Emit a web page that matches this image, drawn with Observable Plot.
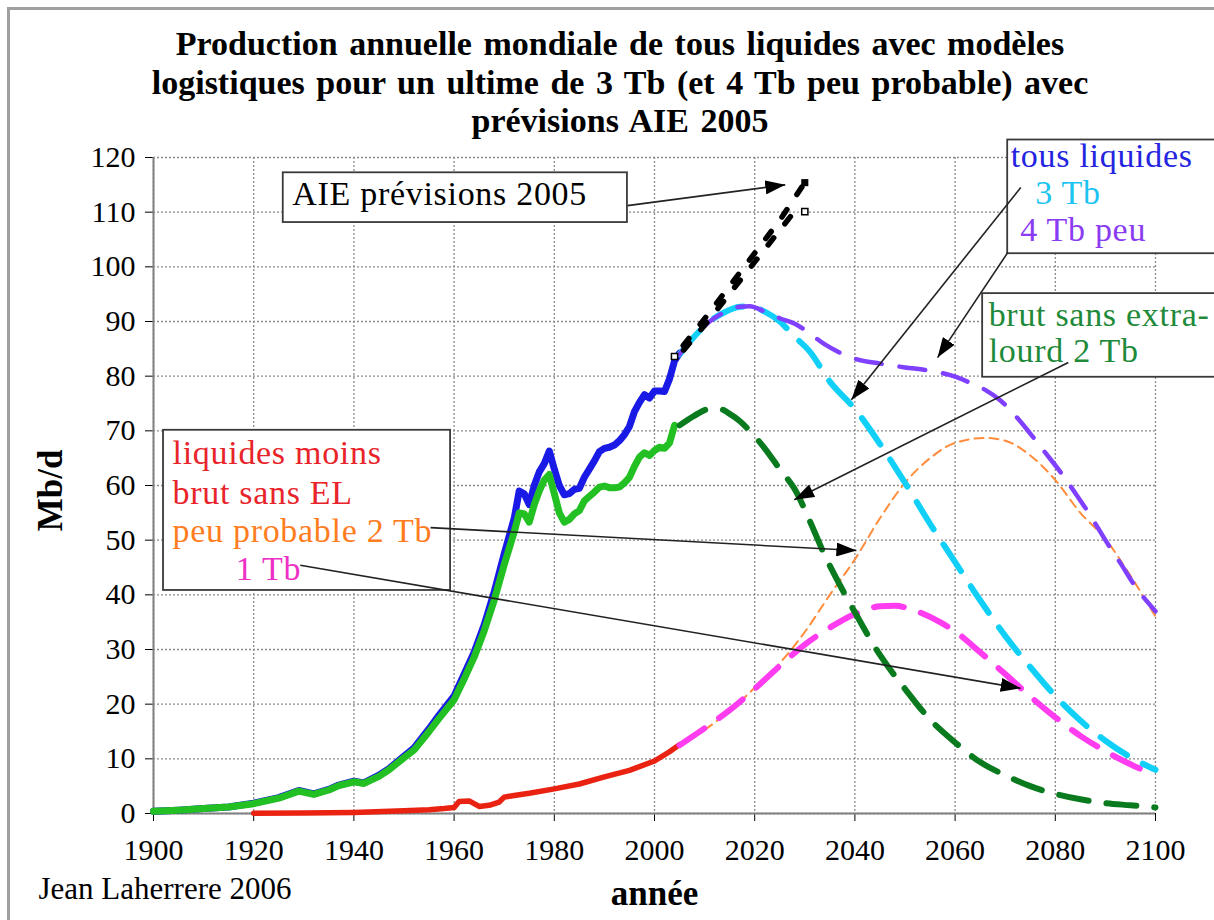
<!DOCTYPE html>
<html>
<head>
<meta charset="utf-8">
<script src="https://cdn.jsdelivr.net/npm/d3@7"></script>
<script src="https://cdn.jsdelivr.net/npm/@observablehq/plot@0.6"></script>
<style>
  html, body { margin: 0; padding: 0; background: #fff; }
  #page { position: relative; width: 1214px; height: 920px; overflow: hidden; background: #fff; font-family: 'Liberation Serif', Tinos, 'Times New Roman', 'DejaVu Serif', serif; }
  #frame { position: absolute; left: 7px; top: 7px; width: 1300px; height: 1000px; border-left: 3px solid #a0a0a0; border-top: 3px solid #a0a0a0; }
  #title { position: absolute; left: 0; top: 25px; width: 1240px; text-align: center; font-weight: bold; font-size: 34px; word-spacing: 3px; line-height: 38.5px; color: #000; }
  #chart { position: absolute; left: 0; top: 140px; }
</style>
</head>
<body>
<div id="page">
  <div id="frame"></div>
  <div id="title">Production annuelle mondiale de tous liquides avec modèles<br>logistiques pour un ultime de 3 Tb (et 4 Tb peu probable) avec<br>prévisions AIE 2005</div>
  <div id="chart"></div>
</div>
<script>
// ---- historical data ----
const allLiquidsYears = [1900,1905,1910,1915,1920,1925,1929,1932,1935,1937,1940,1942,1945,1947,1950,1952,1955,1957,1960,1962,1964,1966,1968,1970,1972,1973,1974,1975,1976,1977,1978,1979,1980,1981,1982,1983,1984,1985,1986,1987,1988,1989,1990,1991,1992,1993,1994,1995,1996,1997,1998,1999,2000,2001,2002,2003,2004,2005];
const allLiquidsValues = [0.4,0.6,0.9,1.2,1.9,2.9,4.2,3.6,4.4,5.2,5.9,5.6,7.0,8.2,10.5,12.0,15.5,18.0,21.5,25.5,29.5,34.5,40.5,47.5,54.0,59.0,58.5,56.5,60.0,62.5,64.0,66.3,63.0,60.0,58.3,58.5,59.3,59.5,61.5,63.0,64.5,66.2,66.8,67.0,67.4,68.2,69.3,70.8,73.5,75.2,76.6,76.0,77.3,77.3,77.2,79.5,82.8,84.2];

const crudeYears = [1900,1905,1910,1915,1920,1925,1929,1932,1935,1937,1940,1942,1945,1947,1950,1952,1955,1957,1960,1962,1964,1966,1968,1970,1972,1973,1974,1975,1976,1977,1978,1979,1980,1981,1982,1983,1984,1985,1986,1987,1988,1989,1990,1991,1992,1993,1994,1995,1996,1997,1998,1999,2000,2001,2002,2003,2004];
const crudeValues = [0.4,0.6,0.9,1.2,1.8,2.8,4.1,3.5,4.3,5.1,5.8,5.5,6.8,8.0,10.2,11.6,15.0,17.4,20.8,24.6,28.6,33.4,39.0,45.5,51.5,55.0,54.8,53.3,56.5,59.0,61.0,62.0,58.5,55.0,53.3,53.8,54.8,55.4,57.2,58.0,58.8,59.7,59.9,59.6,59.6,59.7,60.5,61.5,63.5,65.2,66.0,65.5,66.4,67.0,66.8,67.8,71.0];

const otherYears = [1920,1930,1940,1950,1955,1958,1960,1961,1963,1965,1967,1969,1970,1972,1975,1980,1985,1990,1995,2000,2003,2005];
const otherValues = [0.05,0.1,0.2,0.5,0.7,0.9,1.1,2.2,2.3,1.3,1.5,2.1,3.0,3.3,3.7,4.5,5.4,6.7,7.9,9.6,11.3,12.6];

// ---- logistic models ----
const tb3Years = [2005,2008,2011,2014,2017,2019,2022,2025,2028,2031,2035,2040,2045,2050,2055,2060,2065,2070,2075,2080,2085,2090,2095,2100];
const tb3Values = [84,87.3,90,91.7,92.7,92.8,91.8,90,87.2,84.5,79,74,67.6,60.5,53,46,39,32.5,26.8,21.5,17,13.3,10.3,8];

const tb4Years = [2005,2008,2011,2014,2017,2019,2022,2025,2028,2031,2034,2037,2040,2045,2050,2055,2060,2063,2066,2069,2072,2075,2078,2081,2084,2087,2090,2093,2096,2100];
const tb4Values = [84,87.3,90,91.7,92.7,92.8,91.8,90.6,89.6,87.8,85.8,84.3,83.2,82.3,81.6,81,79.9,78.8,77.5,75.6,72.8,69.5,66,62.5,58.6,54.5,50,45.8,41.5,37];

const crude2Years = [2005,2008,2011,2013,2015,2017,2019,2022,2025,2028,2031,2034,2037,2040,2045,2050,2055,2060,2065,2070,2075,2080,2085,2090,2095,2100];
const crude2Values = [71,72.8,74,74,73.1,71.8,70,66.8,63,59.3,53.5,47.2,41.8,36.8,29,22.8,17.2,13,9.4,7,5,3.6,2.6,1.9,1.5,1.1];

const other2Years = [2005,2010,2015,2020,2025,2030,2035,2040,2045,2050,2055,2060,2066,2070,2075,2080,2085,2090,2095,2100];
const other2Values = [12.3,15.3,18.8,23,27.5,33.2,40,46.5,54,60.5,65,67.8,68.7,68.2,65.5,61,55,50.2,43.5,36];

const other1Years = [2005,2010,2015,2020,2025,2030,2035,2040,2045,2048,2052,2057,2060,2065,2070,2075,2080,2085,2090,2095,2100];
const other1Values = [12.5,15.6,18.9,22.8,27,30.9,34,36.5,37.9,38,37.1,35,33.3,29.5,25.5,21.4,17.6,14.2,11.4,9,7];

// ---- IEA 2005 forecast (two close scenarios) ----
const ieaHighYears = [2004,2010,2015,2020,2025,2030];
const ieaHighValues = [83.6,90.5,96.5,102.5,108.5,115.4];
const ieaLowYears = [2004,2010,2015,2020,2025,2028];
const ieaLowValues = [82.8,89.3,95.1,100.9,106.7,110.2];
const ieaOpenYears = [2004,2030];
const ieaOpenValues = [83.6,110.1];
const ieaFilledYears = [2030];
const ieaFilledValues = [115.4];

// ---- ticks ----
const xTicks = [1900,1920,1940,1960,1980,2000,2020,2040,2060,2080,2100];
const yTicks = [0,10,20,30,40,50,60,70,80,90,100,110,120];

// ---- annotations ----
const boxes = [
  {x1: 1925.9, x2: 1994.6, y1: 108.1, y2: 117.2},
  {x1: 2070.5, x2: 2113, y1: 102.4, y2: 123.2},
  {x1: 2065.5, x2: 2113, y1: 79.8, y2: 95.1},
  {x1: 1902.0, x2: 1959.3, y1: 40.8, y2: 70.1}
];
const labels = [
  {x: 1927.7, y: 113.3, text: "AIE prévisions 2005", color: "#000000"},
  {x: 2071.1, y: 120.3, text: "tous liquides", color: "#2424e0"},
  {x: 2076.0, y: 113.5, text: "3 Tb", color: "#1cc4f2"},
  {x: 2073.0, y: 106.8, text: "4 Tb peu", color: "#8a3cf2"},
  {x: 2066.7, y: 91.1, text: "brut sans extra-", color: "#1f8a3a"},
  {x: 2066.7, y: 84.5, text: "lourd 2 Tb", color: "#1f8a3a"},
  {x: 1903.8, y: 65.9, text: "liquides moins", color: "#e8242a"},
  {x: 1903.8, y: 58.6, text: "brut sans EL", color: "#e8242a"},
  {x: 1903.8, y: 51.7, text: "peu probable 2 Tb", color: "#ff7d1e"},
  {x: 1916.4, y: 44.7, text: "1 Tb", color: "#ee30c4"}
];
const arrows = [
  {x1: 1994.6, y1: 111.2, x2: 2026.1, y2: 115.0},
  {x1: 2073.1, y1: 114.5, x2: 2039.3, y2: 75.7},
  {x1: 2070.5, y1: 102.6, x2: 2056.5, y2: 83.4},
  {x1: 2082.6, y1: 82.5, x2: 2027.9, y2: 57.4},
  {x1: 1955.3, y1: 52.3, x2: 2040.3, y2: 48.1},
  {x1: 1929.3, y1: 45.4, x2: 2073.1, y2: 22.9}
];
const yTitle = [{x: 1900, y: 59.1, text: "Mb/d"}];

const serif = "'Liberation Serif', Tinos, 'Times New Roman', 'DejaVu Serif', serif";

const svg = Plot.plot({
  width: 1214,
  height: 780,
  marginLeft: 153,
  marginRight: 59,
  marginTop: 17,
  marginBottom: 107,
  style: {fontFamily: serif, fontSize: "30px", color: "#000", background: "transparent", overflow: "visible"},
  x: {domain: [1900, 2100], ticks: xTicks, tickFormat: d => String(d), label: null, tickSize: 8, tickPadding: 17},
  y: {domain: [0, 120], ticks: yTicks, label: null, tickSize: 8, tickPadding: 10},
  marks: [
    Plot.ruleX(xTicks, {stroke: "#8a8a8a", strokeWidth: 1.3, strokeDasharray: "2,2"}),
    Plot.ruleY(yTicks, {stroke: "#8a8a8a", strokeWidth: 1.3, strokeDasharray: "2,2"}),
    Plot.ruleX([1900], {stroke: "#808080", strokeWidth: 2}),
    Plot.ruleY([0], {stroke: "#808080", strokeWidth: 2}),
    // historical
    Plot.line(allLiquidsValues, {x: allLiquidsYears, y: allLiquidsValues, stroke: "#1a1ae6", strokeWidth: 7}),
    Plot.line(crudeValues, {x: crudeYears, y: crudeValues, stroke: "#22c022", strokeWidth: 7}),
    Plot.line(otherValues, {x: otherYears, y: otherValues, stroke: "#ea2212", strokeWidth: 5.5}),
    // models
    Plot.line(other2Values, {x: other2Years, y: other2Values, stroke: "#ff8c3c", strokeWidth: 2, strokeDasharray: "9,6", curve: "monotone-x"}),
    Plot.line(other1Values, {x: other1Years, y: other1Values, stroke: "#ff3cf0", strokeWidth: 6, strokeDasharray: "30,18", curve: "monotone-x"}),
    Plot.line(crude2Values, {x: crude2Years, y: crude2Values, stroke: "#0a7a1e", strokeWidth: 6, strokeDasharray: "30,18", curve: "monotone-x"}),
    Plot.line(tb3Values, {x: tb3Years, y: tb3Values, stroke: "#10d0f8", strokeWidth: 6, strokeDasharray: "32,18", curve: "monotone-x"}),
    Plot.line(tb4Values, {x: tb4Years, y: tb4Values, stroke: "#8040ff", strokeWidth: 4.5, strokeDasharray: "26,18", strokeDashoffset: 12, curve: "monotone-x"}),
    // IEA
    Plot.line(ieaHighValues, {x: ieaHighYears, y: ieaHighValues, stroke: "#000", strokeWidth: 5.5, strokeDasharray: "9,18", strokeDashoffset: -14}),
    Plot.line(ieaLowValues, {x: ieaLowYears, y: ieaLowValues, stroke: "#000", strokeWidth: 5.5, strokeDasharray: "9,18", strokeDashoffset: -14}),
    Plot.dot(ieaOpenValues, {x: ieaOpenYears, y: ieaOpenValues, symbol: "square", r: 3.5, stroke: "#000", fill: "#fff", strokeWidth: 1.5}),
    Plot.dot(ieaFilledValues, {x: ieaFilledYears, y: ieaFilledValues, symbol: "square", r: 4, fill: "#000"}),
    // annotation boxes
    Plot.rect(boxes, {x1: "x1", x2: "x2", y1: "y1", y2: "y2", fill: "#fff", stroke: "#3a3a3a", strokeWidth: 1.8}),
    Plot.text(labels, {x: "x", y: "y", text: "text", fill: "color", textAnchor: "start", fontSize: 34, fontFamily: serif}),
    Plot.link(arrows, {x1: "x1", y1: "y1", x2: "x2", y2: "y2", stroke: "#222", strokeWidth: 1.6}),
    // axis titles and credit
    Plot.text(yTitle, {x: "x", y: "y", text: "text", dx: -103, rotate: -90, fontWeight: "bold", fontSize: 35, fontFamily: serif, fill: "#000"}),
    Plot.text(["année"], {frameAnchor: "bottom", dy: 91, fontWeight: "bold", fontSize: 35, fontFamily: serif, fill: "#000"}),
    Plot.text(["Jean Laherrere 2006"], {frameAnchor: "bottom-left", textAnchor: "start", dx: -115, dy: 85, fontSize: 31, fontFamily: serif, fill: "#000"})
  ]
});

const sel = d3.select(svg);
// slight letter spacing for the annotation labels (wide serif lettering of the original)
sel.selectAll('g[aria-label="text"]').filter(function() { return d3.select(this).selectAll("text").size() === labels.length; })
  .style("letter-spacing", "0.7px");

// filled arrowheads
let defs = sel.select("defs");
if (defs.empty()) defs = sel.insert("defs", ":first-child");
defs.append("marker")
  .attr("id", "arrowhead")
  .attr("viewBox", "0 0 20 14")
  .attr("refX", 20).attr("refY", 7)
  .attr("markerWidth", 20).attr("markerHeight", 14)
  .attr("markerUnits", "userSpaceOnUse")
  .attr("orient", "auto")
  .append("path").attr("d", "M0,0L20,7L0,14Z").attr("fill", "#000");
sel.selectAll('g[aria-label="link"] path').attr("marker-end", "url(#arrowhead)");

document.getElementById("chart").appendChild(svg);
</script>
</body>
</html>
